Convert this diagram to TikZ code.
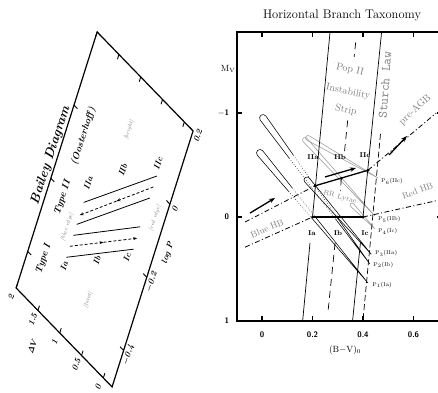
\documentclass[tikz,border=0pt]{standalone}
\usepackage{tikz}
\usetikzlibrary{arrows.meta}
\definecolor{notegray}{gray}{0.5}
\definecolor{trackgray}{gray}{0.6}
\tikzset{
  bdframe/.style={line width=1.2pt},
  bdtick/.style={line width=0.9pt},
  bdtext/.style={font=\bfseries\itshape\boldmath\fontsize{8.5}{9}\selectfont, rotate=72, inner sep=0pt},
  bdnote/.style={text=notegray, font=\itshape\fontsize{5.5}{6}\selectfont, rotate=72, inner sep=0pt},
  bdline/.style={line width=0.8pt},
  bddash/.style={line width=0.8pt, dash pattern=on 3pt off 2pt, -{Stealth[length=4pt,width=3pt]}},
  hbaxis/.style={line width=1.8pt},
  hbtick/.style={line width=1.2pt},
  hbnum/.style={font=\bfseries\sffamily\fontsize{8}{8}\selectfont, inner sep=0pt},
  hbgray/.style={text=notegray, font=\fontsize{10}{10}\selectfont, inner sep=0pt},
  hbtype/.style={font=\bfseries\fontsize{7}{7}\selectfont, inner sep=0pt},
  hbend/.style={font=\fontsize{5.5}{6}\selectfont, anchor=west, inner sep=0pt},
  striprule/.style={line width=0.7pt},
  stripmid/.style={line width=0.7pt, dash pattern=on 7pt off 5pt},
  sturch/.style={line width=0.7pt, dash pattern=on 6pt off 3pt},
  hbbound/.style={line width=0.8pt, dash pattern=on 5pt off 2.5pt on 1pt off 2.5pt},
  zahb/.style={line width=1.3pt},
  hbarrow/.style={line width=1.3pt, -{Stealth[length=6pt,width=4.5pt]}},
  hbpoint/.style={circle, fill, inner sep=0pt, minimum size=3pt},
  trackline/.style={line width=0.55pt}
}
% evolutionary track: position of tip, angle, length, half width,
% end of solid head, start of solid tail, colour
\newcommand\hbtrack[7]{%
  \begin{scope}[shift={#1}, rotate=#2, y=1pt, color=#7]
    \begin{scope}
      \clip (-10,-10) rectangle (#5,10);
      \draw[trackline] (0,#4) arc[start angle=90, end angle=270, radius=#4] -- (#3,0) -- cycle;
    \end{scope}
    \begin{scope}
      \clip (#5,-10) rectangle (#6,10);
      \draw[trackline, dotted] (0,#4) arc[start angle=90, end angle=270, radius=#4] -- (#3,0) -- cycle;
    \end{scope}
    \begin{scope}
      \clip (#6,-10) rectangle (#3+5,10);
      \draw[trackline] (0,#4) arc[start angle=90, end angle=270, radius=#4] -- (#3,0) -- cycle;
    \end{scope}
  \end{scope}}

\begin{document}
\begin{tikzpicture}[x=1pt, y=-1pt]
  \useasboundingbox (0,0) rectangle (438,392);
  \clip (0,0) rectangle (438,392);

  % Bailey diagram, log P along x, Delta V along y
  \begin{scope}[shift={(161.2,195.1)}, x={(115.7pt,365.7pt)}, y={(-43.6pt,45pt)}]
    \draw[bdframe] (-0.5,-0.2) -- (0.2,-0.2) -- (0.2,2) -- (-0.5,2) -- cycle;
    \foreach \p/\t [count=\i] in {-0.4/$-$0.4, -0.2/$-$0.2, 0/0, 0.2/0.2} {
      \draw[bdtick] (\p,-0.2) -- (\p,-0.12);
      \draw[bdtick] (\p,2) -- (\p,1.92);
      \node[bdtext] (lpt\i) at (\p,-0.31) {\t};
    }
    \foreach \v/\t [count=\i] in {0/0, 0.5/0.5, 1/1, 1.5/1.5, 2/2} {
      \draw[bdtick] (-0.5,\v) -- (-0.487,\v);
      \draw[bdtick] (0.2,\v) -- (0.187,\v);
      \node[bdtext] (dvt\i) at (-0.53,\v+0.04) {\t};
    }
    \node[bdtext] (dvlab) at (-0.585,1.40) {$\mathit{\Delta}V$};
    \node[bdtext] (lplab) at (-0.105,-0.434) {log P};

    % Type I
    \draw[bdline] (-0.33,1.3) -- (-0.17,0.18);
    \draw[bddash] (-0.30,1.3) -- (-0.22,0.74);
    \draw[bddash] (-0.22,0.74) -- (-0.14,0.18);
    \draw[bdline] (-0.27,1.3) -- (-0.11,0.19);
    % Type II
    \draw[bdline] (-0.24,1.3) -- (-0.03,0.18);
    \draw[bddash] (0.0,0.18) -- (-0.1075,0.74);
    \draw[bddash] (-0.1075,0.74) -- (-0.215,1.3);
    \draw[bdline] (-0.18,1.3) -- (0.03,0.18);

    \node[bdtext, font=\bfseries\itshape\fontsize{13}{14}\selectfont] (bailey) at (-0.153,2.13) {Bailey Diagram};
    \node[bdtext, font=\bfseries\itshape\fontsize{9.5}{10}\selectfont] (typeI) at (-0.382,1.685) {Type I};
    \node[bdtext, font=\bfseries\itshape\fontsize{9.5}{10}\selectfont] (typeII) at (-0.215,1.69) {Type II};
    \node[bdtext, font=\bfseries\itshape\fontsize{9.5}{10}\selectfont] (oost) at (-0.044,1.667) {(Oosterhoff)};
    \node[bdtext] (bIa) at (-0.353,1.29) {Ia};
    \node[bdtext] (bIb) at (-0.272,0.75) {Ib};
    \node[bdtext] (bIc) at (-0.202,0.25) {Ic};
    \node[bdtext] (bIIa) at (-0.131,1.33) {IIa};
    \node[bdtext] (bIIb) at (-0.03,0.80) {IIb};
    \node[bdtext] (bIIc) at (0.059,0.23) {IIc};
    \node[bdnote] (bright) at (0.066,0.913) {[bright]};
    \node[bdnote] (faint) at (-0.372,0.692) {[faint]};
    \node[bdnote] (blueedge) at (-0.266,1.454) {[blue edge]};
    \node[bdnote] (rededge) at (-0.06,-0.018) {[red edge]};
  \end{scope}

  \node[font=\fontsize{12.5}{13}\selectfont, inner sep=0pt] (title) at (342,15) {Horizontal Branch Taxonomy};

  % tracks (drawn first, under the HB)
  \hbtrack{(260,153)}{-50.3}{169}{3.5}{48}{83}{black}
  \hbtrack{(263,118)}{-53.8}{181}{3.5}{48}{124}{black}
  \hbtrack{(307,180)}{-49.1}{98}{3}{98}{98}{black}
  \hbtrack{(305,140)}{-47.4}{103}{2.5}{103}{103}{trackgray}
  \hbtrack{(308,138)}{-29.7}{81}{2.5}{81}{81}{trackgray}
  \hbtrack{(352,205)}{-46.2}{33}{2}{33}{33}{trackgray}

  % colour-magnitude diagram, (B-V)_0 along x, M_V along y
  \begin{scope}[shift={(262,217)}, x=252.5pt, y=-104pt]
    \draw[hbaxis] (-0.099,-1.779) rectangle (0.715,1);
    \foreach \x/\t [count=\i] in {0/0, 0.2/0.2, 0.4/0.4, 0.6/0.6} {
      \draw[hbtick] (\x,1) -- (\x,0.95);
      \draw[hbtick] (\x,-1.779) -- (\x,-1.73);
      \node[hbnum] (bv\i) at (\x,1.135) {\t};
    }
    \foreach \m/\t [count=\i] in {-1/$-$1, 0/0, 1/1} {
      \draw[hbtick] (-0.099,\m) -- (-0.079,\m);
      \draw[hbtick] (0.715,\m) -- (0.695,\m);
      \node[hbnum, anchor=east] (mv\i) at (-0.13,\m) {\t};
    }
    \node[font=\fontsize{9}{9}\selectfont, anchor=east, inner sep=0pt] (mvlab) at (-0.105,-1.42) {M$_\mathrm{V}$};
    \node[font=\fontsize{9}{9}\selectfont, inner sep=0pt] (bvlab) at (0.329,1.28) {(B$-$V)$_0$};

    \coordinate (Ia) at (0.2,0);
    \coordinate (Ib) at (0.3,0);
    \coordinate (Ic) at (0.4,0);
    \coordinate (IIa) at (0.21,-0.3);
    \coordinate (IIb) at (0.314,-0.372);
    \coordinate (IIc) at (0.42,-0.45);

    % instability strip
    \draw[striprule] (0.2694,-1.779) -- (Ia);
    \draw[striprule] (0.19,0.25) -- (0.161,1);
    \draw[striprule] (0.4737,-1.779) -- (Ic);
    \draw[striprule] (0.3897,0.25) -- (0.3586,1);
    \draw[stripmid] (0.371,-1.68) -- (0.365,-1.54);
    \draw[stripmid] (0.3394,-0.93) -- (0.3263,-0.62);
    \draw[stripmid] (IIb) -- (0.3106,-0.25);
    \draw[stripmid] (0.2894,0.25) -- (0.261,0.92);
    \draw[sturch] (0.4693,-0.8) -- (0.3996,1);

    % HB boundaries
    \draw[hbbound] (-0.067,0.048) -- (IIa);
    \draw[hbbound] (-0.067,0.29) -- (Ia);
    \draw[hbbound] (IIc) -- (0.69,-1.0);
    \draw[hbbound] (Ic) -- (0.715,-0.17);
    \draw[zahb] (Ia) -- (Ic);
    \draw[zahb] (IIa) -- (IIc);
    \foreach \n in {Ia,Ib,Ic,IIa,IIb,IIc}
      \node[hbpoint] (pt\n) at (\n) {};

    \draw[hbarrow] (-0.0475,-0.038) -- (0.0515,-0.183);
    \draw[hbarrow] (0.2495,-0.385) -- (0.372,-0.471);
    \draw[hbarrow] (0.503,-0.596) -- (0.574,-0.779);

    \node[hbtype] (lIIa) at (0.202,-0.577) {IIa};
    \node[hbtype] (lIIb) at (0.309,-0.577) {IIb};
    \node[hbtype] (lIIc) at (0.408,-0.596) {IIc};
    \node[hbtype] (lIa) at (0.198,0.154) {Ia};
    \node[hbtype] (lIb) at (0.301,0.154) {Ib};
    \node[hbtype] (lIc) at (0.408,0.154) {Ic};

    \node[hbend] (p6) at (0.471,-0.341) {P$_6$(IIc)};
    \node[hbend] (p5) at (0.459,0.024) {P$_5$(IIb)};
    \node[hbend] (p4) at (0.459,0.139) {P$_4$(Ic)};
    \node[hbend] (p3) at (0.447,0.351) {P$_3$(IIa)};
    \node[hbend] (p2) at (0.44,0.462) {P$_2$(Ib)};
    \node[hbend] (p1) at (0.436,0.654) {P$_1$(Ia)};

    \node[hbgray, rotate=-12] (popII) at (0.3485,-1.413) {Pop II};
    \node[hbgray, rotate=-12] (instab) at (0.3406,-1.202) {Instability};
    \node[hbgray, rotate=-12] (strip) at (0.3327,-1.029) {Strip};
    \node[hbgray, font=\ttfamily\fontsize{13}{13}\selectfont, rotate=86] (sturchlab) at (0.4875,-1.27) {Sturch Law};
    \node[hbgray, font=\fontsize{10}{10}\selectfont, rotate=43] (preagb) at (0.606,-1.03) {pre-AGB};
    \node[hbgray, font=\fontsize{9}{9}\selectfont, rotate=22] (redhb) at (0.616,-0.25) {Red HB};
    \node[hbgray, font=\fontsize{9}{9}\selectfont, rotate=23] (bluehb) at (0.02,0.11) {Blue HB};
    \node[hbgray, font=\fontsize{7}{7}\selectfont, rotate=-15] (rrlyr) at (0.309,-0.19) {RR Lyrae};
  \end{scope}
\end{tikzpicture}
\end{document}
